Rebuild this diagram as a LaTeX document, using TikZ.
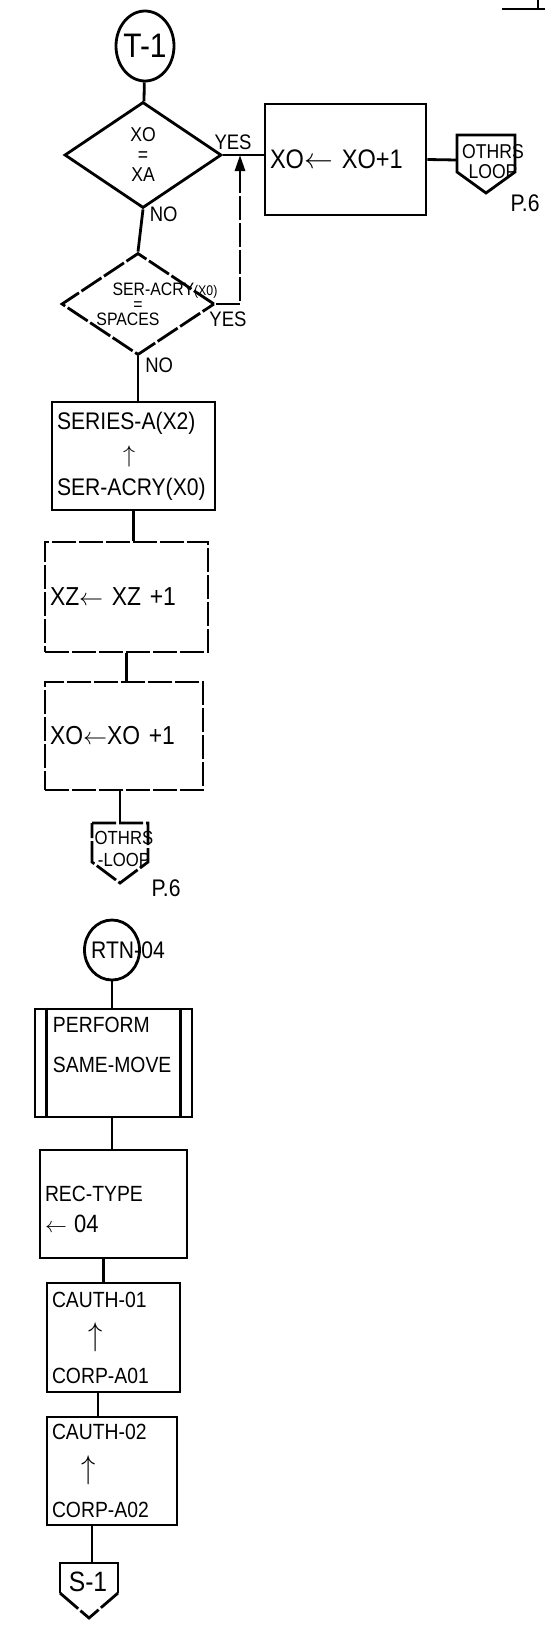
\documentclass[tikz,border=0pt]{standalone}
\usepackage{fontspec}
\setmainfont{Liberation Sans}[FakeStretch=0.88]
\usepackage{tikz}
\usetikzlibrary{positioning,arrows.meta,shapes.geometric,calc}
\tikzset{
  node-box/.style={draw,line width=1.4pt,inner xsep=2.5pt,inner ysep=0pt,align=left},
  node-decision/.style={draw,diamond,line width=1.4pt,inner sep=0pt,align=center},
  node-terminal/.style={draw,ellipse,line width=1.4pt,inner sep=0pt},
  node-text/.style={inner sep=0pt,align=center},
  node-label/.style={inner sep=1pt,font=\fontsize{10.5}{12}\selectfont},
  line-flow/.style={line width=1.4pt},
  line-broken/.style={line width=1.4pt,dash pattern=on 12pt off 1.5pt},
  arrow-flow/.style={-{Triangle[length=8pt,width=5pt]},line width=1.4pt},
}
\newcommand{\uparr}{\scalebox{1.3}[1.5]{$\uparrow$}}

\begin{document}
\begin{tikzpicture}[x=0.5pt,y=-0.5pt]
  \useasboundingbox (0,0) rectangle (551,1628);
  \draw[line-flow] (502,9) -- (545,9);
  \draw[line-flow] (538,0) -- (538,9);

  % upper chart: T-1
  \node[node-terminal,minimum width=29pt,minimum height=35pt,font=\fontsize{17}{17}\selectfont] (t1) at (145,46) {\makebox[0pt]{T-1}};
  \node[node-decision,minimum width=78.5pt,minimum height=53pt,font=\fontsize{10}{10}\selectfont] (chkxa) at (143,155) {XO\\=\\XA};
  \node[node-box,text width=75.5pt,minimum height=55.5pt,font=\fontsize{13.4}{15}\selectfont] (incxo) at (345.5,159.5) {XO$\leftarrow$ XO+1};
  \draw[line-flow] (457,135) -- (515,135) -- (515,172) -- (486,193) -- (457,172) -- cycle;
  \coordinate (othrs1) at (457,160);
  \node[node-text,font=\fontsize{10}{10}\selectfont] (othrs1-txt) at (493,162) {OTHRS\\LOOP};
  \node[node-label,font=\fontsize{12}{12}\selectfont] (p6a) at (525,203) {P.6};
  \draw[line-flow] (t1) -- (chkxa);
  \draw[line-flow] (chkxa.east) -- node[node-label,pos=0.25,above=1pt]{YES} (chkxa.east -| incxo.west);
  \draw[line-flow] (incxo.east) -- (othrs1);

  \node[node-decision,line-broken,minimum width=76.5pt,minimum height=51pt,
    label={[node-text,font=\fontsize{9}{7.5}\selectfont]center:{\hspace*{27pt}SER-ACRY{\fontsize{7}{7}\selectfont(X0)}\\=\\SPACES\hspace*{10pt}}}] (chksp) at (138,304) {};
  \coordinate (yesjoin) at (240,155);
  \draw[line-flow] (chkxa.south) -- node[node-label,pos=0.12,right=2pt]{NO} (chksp.north);
  \draw[arrow-flow,line-broken] (chksp.east) -| node[node-label,pos=0.25,below=2pt]{YES} (yesjoin);

  \node[node-box,text width=76.5pt,minimum height=54pt,font=\fontsize{12}{16.5}\selectfont] (move) at (133.5,456) {SERIES-A(X2)\\\hspace*{33pt}$\uparrow$\\SER-ACRY(X0)};
  \draw[line-flow] (chksp.south) -- node[node-label,pos=0.2,right=2pt]{NO} (chksp.south |- move.north);
  \node[node-box,line-broken,text width=76.5pt,minimum height=55pt,font=\fontsize{13}{15}\selectfont] (incxz) at (126.5,597) {XZ$\leftarrow$ XZ +1};
  \draw[line-flow] (move.south) -- (move.south |- incxz.north);
  \node[node-box,line-broken,text width=74pt,minimum height=54pt,font=\fontsize{13}{15}\selectfont] (incxo2) at (124,736) {XO$\leftarrow$XO +1};
  \draw[line-flow] (incxz.south) -- (incxz.south |- incxo2.north);
  \draw[line-broken] (92,823) -- (148,823) -- (148,862) -- (120,883) -- (92,862) -- cycle;
  \coordinate (othrs2) at (120,823);
  \node[node-text,font=\fontsize{9.5}{11}\selectfont] (othrs2-txt) at (124,849) {OTHRS\\-LOOP};
  \node[node-label,font=\fontsize{12}{12}\selectfont] (p6b) at (166,888) {P.6};
  \draw[line-flow] (othrs2 |- incxo2.south) -- (othrs2);

  % lower chart: RTN-04
  \node[node-terminal,minimum width=27.5pt,minimum height=30pt,font=\fontsize{12}{12}\selectfont] (rtn) at (112,950) {\makebox[0pt]{\hspace*{16pt}RTN-04}};
  \node[node-box,inner xsep=9pt,text width=60.5pt,minimum height=54pt,font=\fontsize{11}{20}\selectfont] (perform) at (113.5,1063) {PERFORM\\SAME-MOVE\rule[-18pt]{0pt}{18pt}};
  \draw[line-flow] ([xshift=6.5pt]perform.north west) -- ([xshift=6.5pt]perform.south west);
  \draw[line-flow] ([xshift=-6.5pt]perform.north east) -- ([xshift=-6.5pt]perform.south east);
  \draw[line-flow] (rtn.south) -- (rtn.south |- perform.north);
  \node[node-box,text width=68.5pt,minimum height=54pt,font=\fontsize{11}{15.5}\selectfont] (rectype) at (113.5,1204) {\rule{0pt}{13pt}REC-TYPE\\$\leftarrow$ {\fontsize{12.5}{12.5}\selectfont 04}};
  \draw[line-flow] (rtn.south |- perform.south) -- (rtn.south |- rectype.north);
  \node[node-box,text width=61.5pt,minimum height=54.5pt,font=\fontsize{11}{19}\selectfont] (cauth1) at (113.5,1337.5) {CAUTH-01\\\hspace*{18pt}\uparr\\CORP-A01};
  \draw[line-flow] ([xshift=-5pt]cauth1.north |- rectype.south) -- ([xshift=-5pt]cauth1.north);
  \node[node-box,text width=60pt,minimum height=54pt,font=\fontsize{11}{19.5}\selectfont] (cauth2) at (112,1471) {CAUTH-02\\\hspace*{14.5pt}\uparr\\CORP-A02};
  \draw[line-flow] ([xshift=-7pt]cauth2.north |- cauth1.south) -- ([xshift=-7pt]cauth2.north);
  \draw[line-flow] (118,1593) -- (118,1563) -- (60,1563) -- (60,1593);
  \draw[line-broken] (60,1593) -- (89,1618) -- (118,1593);
  \coordinate (s1) at (92,1563);
  \node[node-text,font=\fontsize{14}{14}\selectfont] (s1-txt) at (88,1582) {S-1};
  \draw[line-flow] (s1 |- cauth2.south) -- (s1);
\end{tikzpicture}
\end{document}
